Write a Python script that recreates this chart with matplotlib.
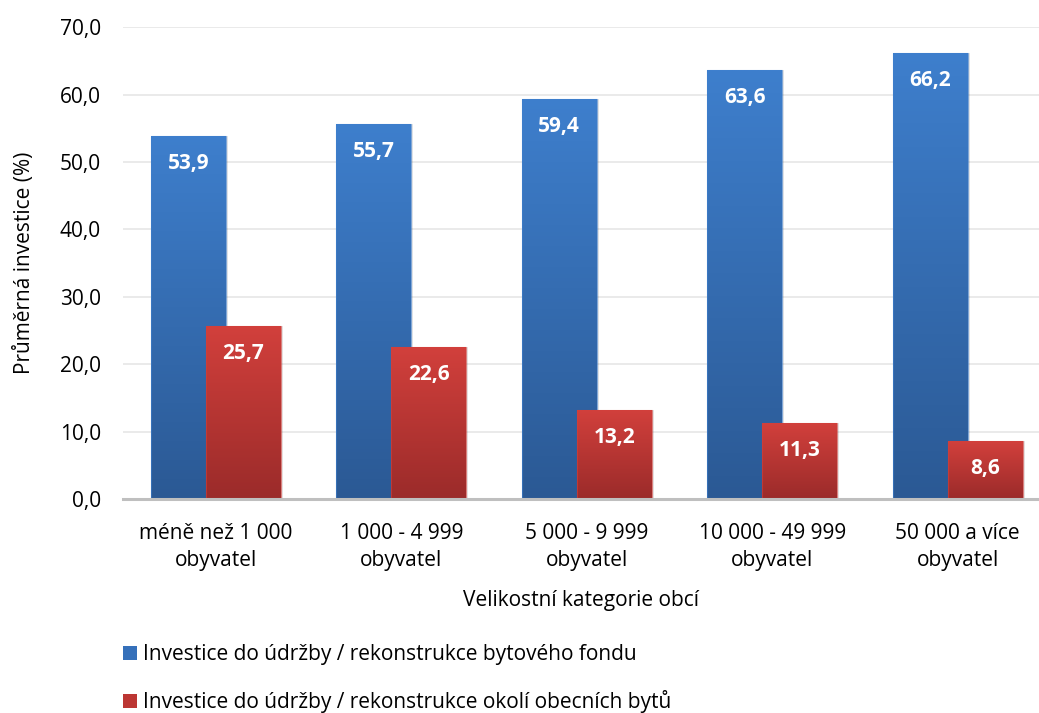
import matplotlib
matplotlib.use('Agg')
import matplotlib.pyplot as plt
import numpy as np
from matplotlib.colors import LinearSegmentedColormap
from matplotlib.patches import Patch

plt.rcParams['font.family'] = ['Open Sans', 'DejaVu Sans']

# Data
categories = ['méně než 1 000\nobyvatel', '1 000 - 4 999\nobyvatel', '5 000 - 9 999\nobyvatel',
              '10 000 - 49 999\nobyvatel', '50 000 a více\nobyvatel']
fond = [53.9, 55.7, 59.4, 63.6, 66.2]
okoli = [25.7, 22.6, 13.2, 11.3, 8.6]
series_names = ['Investice do údržby / rekonstrukce bytového fondu',
                'Investice do údržby / rekonstrukce okolí obecních bytů']
yticks = np.arange(0, 71, 10)

blue_top, blue_bot = '#3E7FCD', '#2B5994'
red_top, red_bot = '#D2403C', '#9B2B2A'
fs = 15

fig = plt.figure(figsize=(10.39, 7.13), dpi=100)
ax = fig.add_axes([123 / 1039, 0.300, 916 / 1039, 0.662])

x = np.arange(len(categories))
w = 0.404
off = 0.148

def gradient_bars(xpos, vals, ctop, cbot, z):
    cmap = LinearSegmentedColormap.from_list('g', [cbot, ctop])
    bars = ax.bar(xpos, vals, w, facecolor='none', edgecolor='none', zorder=z)
    grad = np.linspace(0, 1, 256).reshape(-1, 1)
    for b in bars:
        bx, by = b.get_x(), b.get_y()
        bw, bh = b.get_width(), b.get_height()
        # soft shadow to the right
        ax.bar(bx + bw / 2 + 0.012, bh, bw, bottom=0, color='#000000', alpha=0.10,
               zorder=z - 0.5, linewidth=0)
        im = ax.imshow(grad, cmap=cmap, origin='lower', aspect='auto',
                       extent=[bx, bx + bw, by, by + bh], zorder=z)
        im.set_clip_path(b)
        ax.bar(bx + bw / 2, bh, bw, facecolor='none', edgecolor=ctop, linewidth=0.8,
               alpha=0.6, zorder=z + 0.1)
    for xi, v in zip(xpos, vals):
        ax.text(xi, v - 4.1, f'{v:.1f}'.replace('.', ','), ha='center', va='center',
                color='white', fontsize=15, fontweight='bold', zorder=z + 0.2)
    return bars

gradient_bars(x - off, fond, blue_top, blue_bot, 3)
gradient_bars(x + off, okoli, red_top, red_bot, 5)

ax.set_xlim(-0.5, 4.438)
ax.set_ylim(0, 70)
ax.set_yticks(yticks)
ax.set_yticklabels([f'{t:.1f}'.replace('.', ',') for t in yticks], fontsize=fs)
ax.set_xticks(x)
ax.set_xticklabels(categories, fontsize=fs, linespacing=1.38)
ax.tick_params(length=0)
ax.tick_params(axis='y', pad=16)
ax.tick_params(axis='x', pad=17)
ax.yaxis.grid(True, color='#E6E6E6', linewidth=1.2, zorder=0)
ax.set_axisbelow(True)
for s in ['top', 'right', 'left']:
    ax.spines[s].set_visible(False)
ax.spines['bottom'].set_color('#BFBFBF')
ax.spines['bottom'].set_linewidth(2.2)
ax.spines['bottom'].set_zorder(7)

ax.set_ylabel('Průměrná investice (%)', fontsize=fs, labelpad=18)
ax.set_xlabel('Velikostní kategorie obcí', fontsize=fs, labelpad=14)

handles = [Patch(facecolor='#3570BA', edgecolor='none'),
           Patch(facecolor='#BC3633', edgecolor='none')]
fig.legend(handles, series_names, loc='upper left', bbox_to_anchor=(123 / 1039, 1 - 644 / 713),
           frameon=False, fontsize=fs, handlelength=0.65, handleheight=0.65,
           handletextpad=0.3, labelspacing=1.2, borderpad=0, borderaxespad=0)

fig.savefig('out.png', dpi=100)
